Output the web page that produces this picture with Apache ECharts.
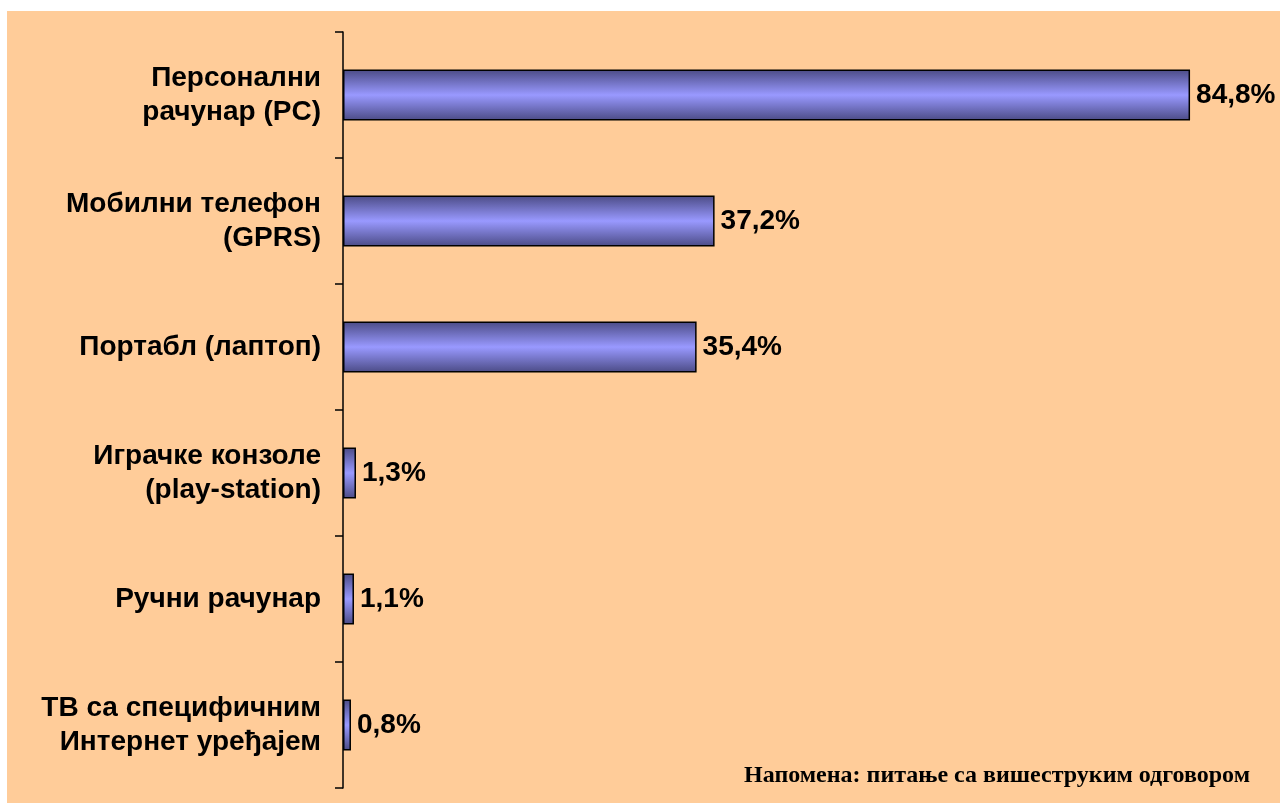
<!DOCTYPE html>
<html>
<head>
<meta charset="utf-8">
<script src="https://cdn.jsdelivr.net/npm/echarts@6/dist/echarts.min.js"></script>
<style>
  html, body { margin: 0; padding: 0; background: #fff; }
  #chart { width: 1280px; height: 805px; }
</style>
</head>
<body>
<div id="chart"></div>
<script>
// categories top to bottom
const categories = [
  "Персонални\nрачунар (PC)",
  "Мобилни телефон\n(GPRS)",
  "Портабл (лаптоп)",
  "Играчке конзоле\n(play-station)",
  "Ручни рачунар",
  "ТВ са специфичним\nИнтернет уређајем"
];
const values = [84.8, 37.2, 35.4, 1.3, 1.1, 0.8];
const note = "Напомена: питање са вишеструким одговором";

var myChart = echarts.init(document.getElementById("chart"));

var option = {
  backgroundColor: "#fff",
  animation: false,
  graphic: [
    {
      type: "rect",
      z: -10,
      shape: { x: 7, y: 11, width: 1273, height: 792 },
      style: { fill: "#FFCC99" }
    },
    {
      type: "text",
      right: 30,
      top: 764,
      style: {
        text: note,
        font: "bold 24px 'Liberation Serif', 'Times New Roman', serif",
        fill: "#000"
      }
    }
  ],
  grid: { left: 343, right: 38, top: 32, bottom: 17 },
  xAxis: {
    type: "value",
    min: 0,
    max: 90,
    show: false
  },
  yAxis: {
    type: "category",
    inverse: true,
    data: categories,
    axisLine: { show: true, lineStyle: { color: "#000", width: 1.5 } },
    axisTick: { show: true, length: 8, lineStyle: { color: "#000", width: 1.5 } },
    axisLabel: {
      margin: 22,
      color: "#000",
      fontFamily: "'Liberation Sans', Arial, sans-serif",
      fontWeight: "bold",
      fontSize: 28,
      lineHeight: 34,
      align: "right"
    }
  },
  series: [
    {
      type: "bar",
      data: values,
      barWidth: 51,
      itemStyle: {
        color: {
          type: "linear",
          x: 0, y: 0, x2: 0, y2: 1,
          colorStops: [
            { offset: 0, color: "#4b4b85" },
            { offset: 0.5, color: "#9999ff" },
            { offset: 1, color: "#4b4b85" }
          ]
        },
        borderColor: "#000",
        borderWidth: 1.5
      },
      label: {
        show: true,
        position: "right",
        distance: 6,
        color: "#000",
        fontFamily: "'Liberation Sans', Arial, sans-serif",
        fontWeight: "bold",
        fontSize: 28,
        formatter: function (p) {
          return p.value.toFixed(1).replace(".", ",") + "%";
        }
      }
    }
  ]
};

myChart.setOption(option);
</script>
</body>
</html>
